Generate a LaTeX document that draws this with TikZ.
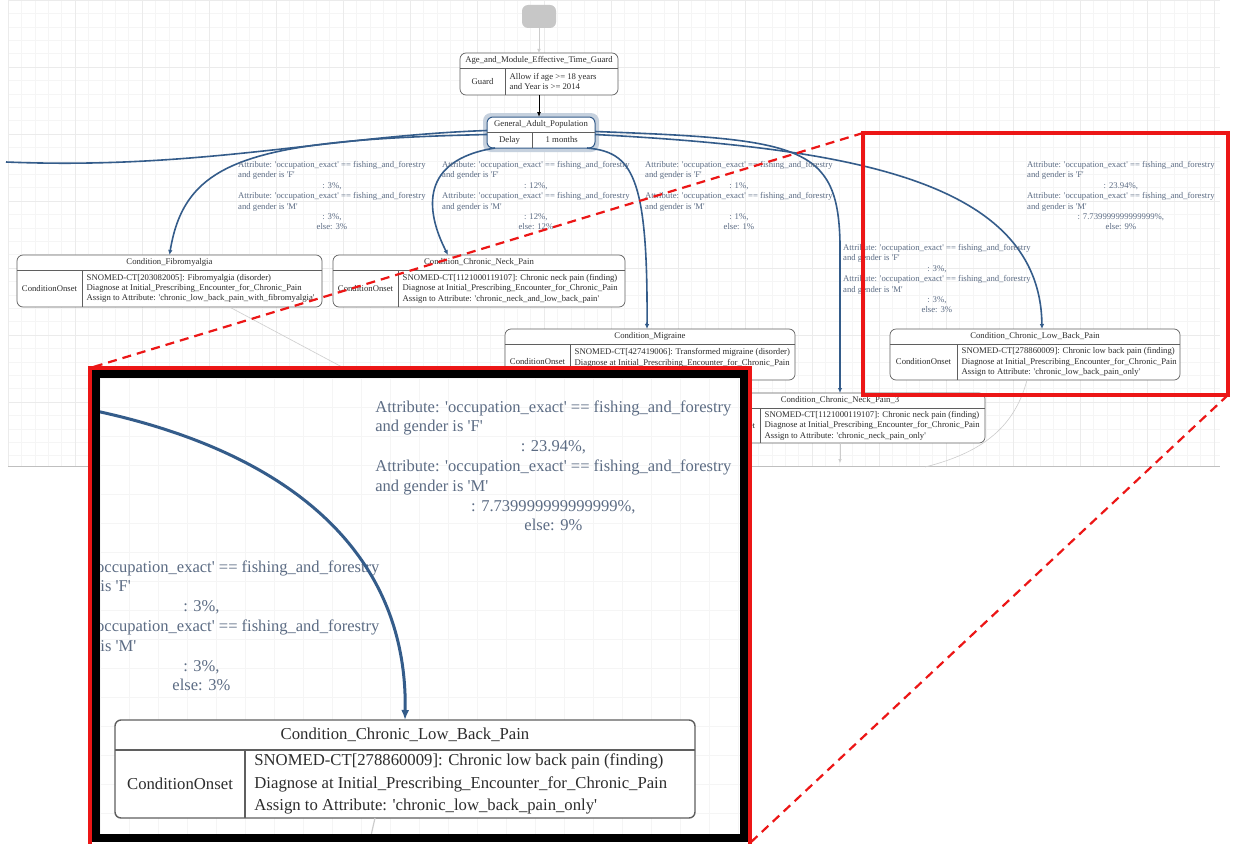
\documentclass[tikz,border=0pt]{standalone}
\usepackage{fontspec}
\setmainfont{Liberation Serif}
\usetikzlibrary{arrows.meta,calc}

\definecolor{flowblue}{RGB}{52,92,138}
\definecolor{labelgrey}{RGB}{92,108,132}
\definecolor{boxgrey}{RGB}{95,95,95}
\definecolor{textgrey}{RGB}{45,45,45}
\definecolor{zoomred}{RGB}{236,22,22}

\newcommand{\q}{\textquotesingle}
% transition text of a distribution edge
\newcommand{\splitlabel}[3]{%
  \begin{tabular}{@{}l@{}}
    Attribute: \q occupation\_exact\q{} == fishing\_and\_forestry\\
    and gender is \q F\q\\
    \multicolumn{1}{@{}c@{}}{: #1,}\\
    Attribute: \q occupation\_exact\q{} == fishing\_and\_forestry\\
    and gender is \q M\q\\
    \multicolumn{1}{@{}c@{}}{: #2,}\\
    \multicolumn{1}{@{}c@{}}{else: #3}
  \end{tabular}}
% state box: name, top left, width, height, left cell width, title, kind, body
\newcommand{\statebox}[9]{%
  \node[statebox, minimum width=#4pt, minimum height=#5pt, anchor=north west] (#1) at (#2,#3) {};
  \draw[boxline] (#2,#3+15) -- (#2+#4,#3+15);
  \draw[boxline] (#2+#6,#3+15) -- (#2+#6,#3+#5);
  \node[boxtext] (#1-title) at (#2+#4/2,#3+7.5) {#7};
  \node[boxtext] (#1-kind) at (#2+#6/2,#3+15/2+#5/2) {#8};
  \node[boxtext, anchor=west, align=left, inner xsep=4.5pt] (#1-body) at (#2+#6,#3+15/2+#5/2) {#9};
}

\tikzset{
  gridminor/.style={draw=black!4, line width=0.4pt},
  gridmajor/.style={draw=black!8, line width=0.5pt},
  statebox/.style={draw=boxgrey, fill=white, rounded corners=6pt, inner sep=0pt, outer sep=0pt, line width=0.7pt},
  startbox/.style={fill=black!22, rounded corners=6pt, minimum width=34pt, minimum height=23pt, inner sep=0pt},
  boxline/.style={draw=boxgrey, line width=0.6pt},
  boxtext/.style={text=textgrey, font=\fontsize{8.7}{10.4}\selectfont, inner sep=3pt},
  edgelabel/.style={text=labelgrey, font=\fontsize{8.7}{10.4}\selectfont, inner sep=0pt, anchor=north west},
  flow/.style={draw=flowblue, line width=1.6pt, -{Latex[length=5pt,width=4.5pt]}},
  flowcut/.style={draw=flowblue, line width=1.6pt},
  faint/.style={draw=black!20, line width=0.6pt},
  zoomframe/.style={draw=zoomred, line width=4pt},
  zoomlink/.style={draw=zoomred, line width=2.2pt, dash pattern=on 9pt off 6pt},
}

\begin{document}
\begin{tikzpicture}[x=1pt,y=-1pt]
\useasboundingbox (0,0) rectangle (1233,843);
\fill[white] (0,0) rectangle (1233,843);
% canvas grid
\foreach \gx in {8,21.4,...,1220} \draw[gridminor] (\gx,0) -- (\gx,466);
\foreach \gy in {0,13.4,...,466} \draw[gridminor] (8,\gy) -- (1220,\gy);
\foreach \gx in {8,75,...,1220} \draw[gridmajor] (\gx,0) -- (\gx,466);
\foreach \gy in {0,67,...,466} \draw[gridmajor] (8,\gy) -- (1220,\gy);
\draw[black!25, line width=0.8pt] (8,466) -- (1220,466);

% states
\node[startbox] (start) at (539,16.5) {};
\statebox{guard}{460}{53}{158}{42}{45}{Age\_and\_Module\_Effective\_Time\_Guard}{Guard}{Allow if age >= 18 years\\and Year is >= 2014}
\fill[flowblue!28, rounded corners=8pt] (483,113) rectangle (599,152);
\begin{scope}[statebox/.append style={draw=flowblue, line width=1pt}]
\statebox{gap}{487}{117}{108}{31}{45}{General\_Adult\_Population}{Delay}{\hspace*{9pt}1 months}
\end{scope}
\statebox{fibro}{17}{255}{305}{52}{65}{Condition\_Fibromyalgia}{ConditionOnset}{SNOMED-CT[203082005]: Fibromyalgia (disorder)\\Diagnose at Initial\_Prescribing\_Encounter\_for\_Chronic\_Pain\\Assign to Attribute: \q chronic\_low\_back\_pain\_with\_fibromyalgia\q}
\statebox{neck}{333}{255}{292}{52}{65}{Condition\_Chronic\_Neck\_Pain}{ConditionOnset}{SNOMED-CT[1121000119107]: Chronic neck pain (finding)\\Diagnose at Initial\_Prescribing\_Encounter\_for\_Chronic\_Pain\\Assign to Attribute: \q chronic\_neck\_and\_low\_back\_pain\q}
\statebox{migraine}{505}{329}{290}{51}{65}{Condition\_Migraine}{ConditionOnset}{SNOMED-CT[427419006]: Transformed migraine (disorder)\\Diagnose at Initial\_Prescribing\_Encounter\_for\_Chronic\_Pain\\\mbox{}}
\statebox{neckthree}{695}{393}{290}{50}{65}{Condition\_Chronic\_Neck\_Pain\_3}{ConditionOnset}{SNOMED-CT[1121000119107]: Chronic neck pain (finding)\\Diagnose at Initial\_Prescribing\_Encounter\_for\_Chronic\_Pain\\Assign to Attribute: \q chronic\_neck\_pain\_only\q}
\statebox{lbp}{890}{329}{290}{51}{67}{Condition\_Chronic\_Low\_Back\_Pain}{ConditionOnset}{SNOMED-CT[278860009]: Chronic low back pain (finding)\\Diagnose at Initial\_Prescribing\_Encounter\_for\_Chronic\_Pain\\Assign to Attribute: \q chronic\_low\_back\_pain\_only\q}

% transitions
\coordinate (offleft) at (6,162);
\coordinate (fibrotail) at (372,383);
\coordinate (neckthreetail) at (840,463);
\coordinate (lbptail) at (925,467);
\draw[faint, -{Latex[length=4pt,width=3.5pt]}] (start.south) -- (guard.north);
\draw[line width=0.9pt, -{Latex[length=5pt,width=4pt]}] (guard.south) -- (guard.south |- gap.north);
\draw[flowcut] ([yshift=2pt]gap.west) .. controls (330,136) and (200,170) .. (offleft);
\draw[flow] ([yshift=-2pt]gap.west) .. controls (250,140) and (185,160) .. (fibro.north);
\draw[flow] ([xshift=8pt]gap.south west) .. controls (420,160) and (425,210) .. ([xshift=-31pt]neck.north);
\draw[flow] ([xshift=-8pt]gap.south east) .. controls (632,152) and (648,175) .. ([xshift=-3pt]migraine.north);
\draw[flow] ([yshift=1pt]gap.east) .. controls (800,139) and (838,145) .. ([yshift=150pt]neckthree.north) -- (neckthree.north);
\draw[flow] ([yshift=-2pt]gap.east) .. controls (850,148) and (1040,180) .. ([xshift=7pt]lbp.north);
\draw[faint] ([xshift=60pt]fibro.south) -- (fibrotail);
\draw[faint, -{Latex[length=4pt,width=3.5pt]}] (neckthree.south) -- (neckthreetail);
\draw[faint] ([xshift=-8pt]lbp.south) .. controls (1015,425) and (985,452) .. (lbptail);

\node[edgelabel] (lblfibro) at (238,160) {\splitlabel{3\%}{3\%}{3\%}};
\node[edgelabel] (lblneck) at (442,160) {\splitlabel{12\%}{12\%}{12\%}};
\node[edgelabel] (lblmigraine) at (645,160) {\splitlabel{1\%}{1\%}{1\%}};
\node[edgelabel] (lblneckthree) at (843,243) {\splitlabel{3\%}{3\%}{3\%}};
\node[edgelabel] (lbllbp) at (1027,160) {\splitlabel{23.94\%}{7.739999999999999\%}{9\%}};

% zoom marks
\coordinate (zoomnw) at (863,133);
\coordinate (zoomse) at (1228,395);
\coordinate (insetnw) at (90,368);
\coordinate (insetse) at (750,843);
\draw[zoomframe] (zoomnw) rectangle (zoomse);
\draw[zoomlink] (zoomnw) -- (insetnw);
\draw[zoomlink] (zoomse) -- (insetse);

% inset
\fill[white] (92,370) rectangle (748,843);
\begin{scope}
  \clip (100,378) rectangle (740,834);
  \foreach \gx in {100,129,...,740} \draw[gridminor] (\gx,378) -- (\gx,834);
  \foreach \gy in {378,407,...,834} \draw[gridminor] (100,\gy) -- (740,\gy);
  \begin{scope}[shift={(375,398)}, scale=1.9, transform shape]
    \node[edgelabel] (lbllbpzoom) at (0,0) {\splitlabel{23.94\%}{7.739999999999999\%}{9\%}};
  \end{scope}
  \begin{scope}[shift={(23,558)}, scale=1.9, transform shape]
    \node[edgelabel] (lblneckzoom) at (0,0) {\splitlabel{3\%}{3\%}{3\%}};
  \end{scope}
  \begin{scope}[shift={(115,720)}, scale=2, transform shape,
      boxtext/.append style={font=\fontsize{8.35}{11.25}\selectfont},
      statebox/.append style={line width=1.4pt}, boxline/.append style={line width=1.2pt}]
    \statebox{lbpz}{0}{0}{290}{49}{65}{Condition\_Chronic\_Low\_Back\_Pain}{ConditionOnset}{SNOMED-CT[278860009]: Chronic low back pain (finding)\\Diagnose at Initial\_Prescribing\_Encounter\_for\_Chronic\_Pain\\Assign to Attribute: \q chronic\_low\_back\_pain\_only\q}
  \end{scope}
  \coordinate (zin) at (96,411);
  \coordinate (lbpztail) at (370,840);
  \draw[flow, line width=3pt, -{Latex[length=10pt,width=8pt]}] (zin) .. controls (300,455) and (408,560) .. (lbpz.north);
  \draw[faint, line width=1.2pt] ([xshift=-30pt]lbpz.south) -- (lbpztail);
\end{scope}
\draw[black, line width=8pt] (96,374) rectangle (744,838);
\draw[zoomframe] (insetnw) rectangle (750,846);
\end{tikzpicture}
\end{document}
